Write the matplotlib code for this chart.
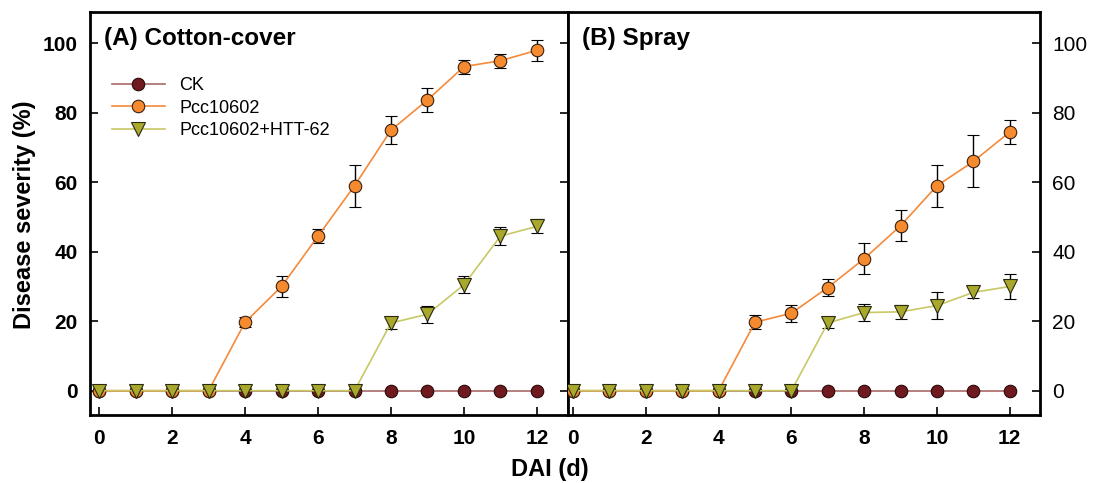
import numpy as np
import matplotlib
matplotlib.use("Agg")
import matplotlib.pyplot as plt
from matplotlib import font_manager

plt.rcParams['font.family'] = ['Liberation Sans', 'DejaVu Sans']

# days after inoculation
dai = np.arange(0, 13)

# (A) Cotton-cover
ck_a = [0]*13
pcc_a = [0, 0, 0, 0, 19.7, 30, 44.5, 59, 75, 83.7, 93.3, 95, 98]
pcc_a_err = [0, 0, 0, 0, 1.5, 3, 2, 6, 4, 3.5, 2, 2, 3]
htt_a = [0, 0, 0, 0, 0, 0, 0, 0, 19.5, 22, 30.5, 44.5, 47.3]
htt_a_err = [0, 0, 0, 0, 0, 0, 0, 0, 1.8, 2.5, 2.5, 2.5, 2]

# (B) Spray
ck_b = [0]*13
pcc_b = [0, 0, 0, 0, 0, 19.7, 22.3, 29.7, 38, 47.5, 59, 66, 74.5]
pcc_b_err = [0, 0, 0, 0, 0, 2, 2.5, 2.5, 4.5, 4.5, 6, 7.5, 3.5]
htt_b = [0, 0, 0, 0, 0, 0, 0, 19.5, 22.5, 22.7, 24.5, 28.3, 30]
htt_b_err = [0, 0, 0, 0, 0, 0, 0, 1.5, 2.5, 2, 4, 1.5, 3.5]

panels = [
    ("(A) Cotton-cover", ck_a, pcc_a, pcc_a_err, htt_a, htt_a_err),
    ("(B) Spray", ck_b, pcc_b, pcc_b_err, htt_b, htt_b_err),
]

# condensed bold for tick labels if available
names = {f.name for f in font_manager.fontManager.ttflist}
tick_family = 'Liberation Sans Narrow' if 'Liberation Sans Narrow' in names else 'Liberation Sans'

fig = plt.figure(figsize=(10.99, 4.83), dpi=100)
ax1 = fig.add_axes([0.0819, 0.1408, 0.4349, 0.8342])
ax2 = fig.add_axes([0.5168, 0.1408, 0.4295, 0.8342])

handles = []
for i, (ax, (title, ck, pcc, pcc_err, htt, htt_err)) in enumerate(zip([ax1, ax2], panels)):
    c1 = ax.errorbar(dai, ck, fmt='-o', color='#A86A6A', mfc='#6E1A1E', mec='#2a0a0a',
                     ms=9, lw=1.2, mew=0.8, label='CK', zorder=2)
    c2 = ax.errorbar(dai, pcc, yerr=[e if e else np.nan for e in pcc_err], fmt='-o',
                     color='#F58A3A', mfc='#F58A2E', mec='#3a2010', ms=9, lw=1.2, mew=0.8,
                     ecolor='black', elinewidth=1, capsize=4, capthick=1, label='Pcc10602', zorder=3)
    c3 = ax.errorbar(dai, htt, yerr=[e if e else np.nan for e in htt_err], fmt='-v',
                     color='#C8C864', mfc='#A8A82C', mec='#2a2a10', ms=10, lw=1.2, mew=0.8,
                     ecolor='black', elinewidth=1, capsize=4, capthick=1,
                     label='Pcc10602+HTT-62', zorder=4)
    if i == 0:
        handles = [c1.lines[0], c2.lines[0], c3.lines[0]]

    ax.set_xlim(-0.25 if i == 0 else -0.14, 12.85 if i == 0 else 12.83)
    ax.set_ylim(-7, 109)
    ax.set_xticks(range(0, 13, 2))
    ax.set_yticks(range(0, 101, 20))
    for s in ax.spines.values():
        s.set_linewidth(2)
    ax.tick_params(direction='in', length=6, width=1.2, labelsize=15, pad=10)
    ax.tick_params(axis='y', pad=9)
    for lab in ax.get_xticklabels() + ax.get_yticklabels():
        lab.set_fontweight('bold')
        lab.set_family(tick_family)
    ax.text(0.03 if i == 0 else 0.03, 0.935, title, transform=ax.transAxes,
            fontsize=17.5, fontweight='bold', va='center')

ax1.tick_params(axis='y', left=True, right=True)
ax2.tick_params(axis='y', left=False, right=True, labelleft=False, labelright=True)

ax1.legend(handles, ['CK', 'Pcc10602', 'Pcc10602+HTT-62'], loc='upper left',
           bbox_to_anchor=(0.02, 0.87), frameon=False, fontsize=13,
           handlelength=2.9, labelspacing=0.3, borderaxespad=0.3)

fig.text(0.022, 0.555, 'Disease severity (%)', rotation=90, fontsize=17,
         fontweight='bold', ha='center', va='center')
fig.text(0.50, 0.028, 'DAI (d)', fontsize=17, fontweight='bold', ha='center', va='center')

fig.savefig('out.png', dpi=100)
